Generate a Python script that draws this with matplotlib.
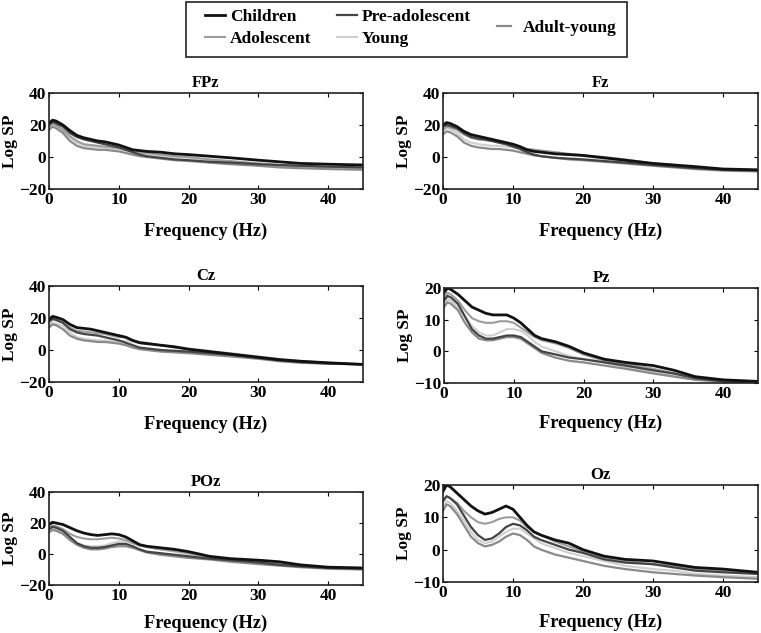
import matplotlib
matplotlib.use("Agg")
import matplotlib.pyplot as plt
from matplotlib.patches import Rectangle

plt.rcParams['font.family'] = ['Liberation Serif', 'DejaVu Serif']
plt.rcParams['font.weight'] = 'bold'

freq = [0, 0.5, 1, 2, 3, 4, 5, 6, 7, 8, 9, 10, 11, 12, 13, 14, 16, 18, 20, 23, 26, 30, 33, 36, 40, 45]
groups = ["Children", "Adolescent", "Pre-adolescent", "Young", "Adult-young"]
colors = {"Children": "#111111", "Pre-adolescent": "#444444", "Adult-young": "#8a8a8a",
          "Adolescent": "#9c9c9c", "Young": "#cfcfcf"}
widths = {"Children": 2.0, "Pre-adolescent": 1.6, "Adult-young": 1.6, "Adolescent": 1.5, "Young": 1.5}

fpz = {
    "Children":       [21,23,22.5,20,16.5,13.5,12,11,10,9.5,8.5,7.5,6,4.5,4,3.5,3,2,1.5,0.5,-0.5,-2,-3,-4,-4.5,-5],
    "Pre-adolescent": [20,22,21,19,15,12.5,11,10,9,8,7,6,4.5,3,1.5,0.5,-0.5,-1.5,-2,-3,-3.5,-4.5,-5,-5.5,-6,-6.5],
    "Adolescent":     [19,21,20,17,13,10,8,7.5,7,6.5,6,5.5,4.5,3.5,3,2.5,1.5,0.5,0,-1.5,-2.5,-4,-5,-5.5,-6.5,-7],
    "Young":          [18,20,19,16,12,9,7,6.5,6,6,5.5,5,4,3,2.5,2,1,0,-0.5,-2,-3,-4.5,-5.5,-6,-7,-7.5],
    "Adult-young":    [17,19,18,15,10,7,5.5,5,4.5,4.5,4,3.5,2.5,1.5,0.5,0,-1,-2,-2.5,-3.5,-4.5,-5.5,-6.5,-7,-7.5,-8],
}
fz = {
    "Children":       [20,21.5,21,19,16,14,13,12,11,10,9,8,6.5,4.5,3.5,3,2,1.5,1,-0.5,-2,-4,-5,-6,-7.5,-8],
    "Pre-adolescent": [19,20,19.5,18,15,12.5,11.5,11,10,9,8,6.5,5,3,1.5,0.5,-0.5,-1,-1.5,-2.5,-3.5,-5,-6,-7,-8,-8.5],
    "Adolescent":     [17,19,18.5,17,14,12,11,10.5,10,9,8,7,6,5,4.5,4,3,2,1,0,-1.5,-4,-5,-6.5,-8,-8.5],
    "Young":          [16,18,17.5,15,11,9,8,7.5,7,7,6.5,6,5.5,5,4.5,4,3,1.5,0.5,-1,-2.5,-4.5,-5.5,-7,-8,-8.5],
    "Adult-young":    [14,16,15.5,13,9,7,6,5.5,5,5,4.5,4,3,2,1,0.5,-0.5,-1.5,-2,-3,-4,-5.5,-6.5,-7.5,-8.5,-9],
}
cz = {
    "Children":       [19,21,20.5,19,16,14,13.5,13,12,11,10,9,8,6,4.5,4,3,2,0.5,-1,-2.5,-4.5,-6,-7,-8,-9],
    "Pre-adolescent": [18,19.5,19,17,13,11,10,9.5,9,8,7,6,4.5,3,1.5,1,0,-0.5,-1,-2,-3,-5,-6.5,-7.5,-8.5,-9],
    "Adolescent":     [17,19,18.5,17,14,12,11.5,11,10.5,10,9,8,8,6,5,4.5,3,1.5,0.5,-1,-2.5,-4.5,-6,-7,-8,-9],
    "Young":          [15,17,16.5,15,11,8,7,6.5,6,6,5.5,5,6,5,4.5,4,3,2,1,-0.5,-2,-4,-5.5,-7,-8,-9],
    "Adult-young":    [14,16,15.5,13,9,7,6,5.5,5,5,4.5,4,3,1.5,0.5,0,-1,-1.5,-2,-3,-4,-5.5,-7,-8,-8.5,-9],
}
pz = {
    "Children":       [18.5,20,19.5,18,16,14,13,12,11.5,11.5,11.5,10.5,9,7,5,4,3,1.5,-0.5,-2.5,-3.5,-4.5,-6,-8,-9,-9.5],
    "Adolescent":     [17,18.5,18,16,13,10.5,9.5,9,9,9.5,9.5,9,7.5,6,4.5,3.5,2.5,1,-1,-3,-4,-5.5,-7,-8.5,-9.5,-9.5],
    "Young":          [15,16.5,16,14,11,8,6,5,5,6,7,7,6.5,5,3,1.5,0,-1.5,-2.5,-3.5,-5,-6.5,-7.5,-9,-9.5,-9.5],
    "Pre-adolescent": [16,17.5,17,15,11,7,5,4,4,4.5,5,5,4.5,3,1.5,0,-1,-2,-2.5,-3.5,-4.5,-6,-7,-8.5,-9.5,-10],
    "Adult-young":    [14,15.5,15,13,9,6,4,3.5,3.5,4,4.5,4.5,4,2.5,1,-0.5,-2,-3,-3.5,-4.5,-5.5,-7,-8,-9,-9.5,-10],
}
poz = {
    "Children":       [19,20.5,20,19,17,15,13.5,12.5,12,12.5,13,12.5,11,8.5,6,5,4,3,1.5,-1.5,-3,-4,-5,-7,-8.5,-9],
    "Adolescent":     [17,18.5,18,16,13,11,10,9.5,9.5,10,10.5,10,9,7,5.5,4.5,3,2,0.5,-2,-3.5,-5,-6.5,-7.5,-9,-9.5],
    "Young":          [15,16.5,16,14,10,7,5.5,5,5,5.5,7,8,8,7,5.5,4.5,3,1.5,0,-2,-3.5,-5,-6.5,-7.5,-9,-9.5],
    "Pre-adolescent": [16,17.5,17,15,11,7,5,4,4,4.5,5.5,6.5,6.5,5,3,1.5,0.5,-0.5,-1.5,-3,-4,-5.5,-7,-8,-9,-9.5],
    "Adult-young":    [14,15.5,15,13,9,6,4,3,3,3.5,4.5,5,5,4,2.5,1,-0.5,-1.5,-2.5,-3.5,-5,-6.5,-7.5,-8.5,-9.5,-10],
}
oz = {
    "Children":       [18,20,19.5,17.5,15.5,13.5,12,11,11.5,12.5,13.5,12.5,10,7.5,5.5,4.5,3,2,0,-2,-3,-3.5,-4.5,-5.5,-6,-7],
    "Adolescent":     [15,16.5,16,14.5,12,10,8.5,8,8.5,9.5,10,10,9,7,5.5,4.5,2.5,1,-0.5,-2.5,-3.5,-4.5,-5,-6,-6.5,-7.5],
    "Pre-adolescent": [15,16.5,16,14,10.5,7,4.5,3,3.5,5,7,8,7.5,6,4,3,1.5,0,-1,-3,-4,-4.5,-5.5,-6.5,-7,-7.5],
    "Young":          [13,15,14.5,12,9,5.5,3,2,2.5,4,5.5,6.5,6.5,5,3.5,2,0.5,-1,-2,-3.5,-5,-6,-6.5,-7.5,-8,-8.5],
    "Adult-young":    [12,14,13.5,11,7.5,4,2,1,1.5,2.5,4,5,4.5,3,1,0,-1.5,-2.5,-3.5,-5,-6,-7,-7.5,-8,-8.5,-9],
}

panels = [
    ("FPz", fpz, (-20, 40), [-20, 0, 20, 40], [49, 93, 363, 189], 11),
    ("Fz",  fz,  (-20, 40), [-20, 0, 20, 40], [443, 93, 758, 189], 11),
    ("Cz",  cz,  (-20, 40), [-20, 0, 20, 40], [49, 286, 363, 382], 11),
    ("Pz",  pz,  (-10, 20), [-10, 0, 10, 20], [444, 288, 758, 383], 9),
    ("POz", poz, (-20, 40), [-20, 0, 20, 40], [49, 492, 363, 585], 7.5),
    ("Oz",  oz,  (-10, 20), [-10, 0, 10, 20], [443, 485, 758, 582], 9),
]

W, H = 761, 633
fig = plt.figure(figsize=(W / 100, H / 100), dpi=100)
draw_order = ["Young", "Adult-young", "Adolescent", "Pre-adolescent", "Children"]
handles = {}
for name, data, ylim, yticks, (x0, y0, x1, y1), lpad in panels:
    ax = fig.add_axes([x0 / W, 1 - y1 / H, (x1 - x0) / W, (y1 - y0) / H])
    for g in draw_order:
        ln, = ax.plot(freq, data[g], color=colors[g], lw=widths[g], label=g)
        handles[g] = ln
    ax.set_xlim(0, 45)
    ax.set_ylim(*ylim)
    ax.set_xticks([0, 10, 20, 30, 40])
    ax.set_yticks(yticks)
    ax.tick_params(direction='in', top=True, right=True, length=3, width=0.8,
                   labelsize=12.5, pad=2)
    for lab in ax.get_xticklabels() + ax.get_yticklabels():
        lab.set_fontweight('bold')
    for s in ax.spines.values():
        s.set_linewidth(1.2)
        s.set_color('#222222')
    ax.set_title(name, fontsize=12, fontweight='bold', pad=4)
    ax.set_xlabel("Frequency (Hz)", fontsize=13.2, fontweight='bold', labelpad=lpad)
    ax.set_ylabel("Log SP", fontsize=12.5, fontweight='bold', labelpad=1)

# legend box
fig.patches.append(Rectangle((186 / W, 1 - 57 / H), 441 / W, 55 / H,
                             transform=fig.transFigure, fill=False,
                             edgecolor='#222222', linewidth=1.2))
prop = {'family': 'Liberation Serif', 'weight': 'bold', 'size': 12.5}
left_groups = ["Children", "Adolescent", "Pre-adolescent", "Young"]
leg1 = fig.legend([handles[g] for g in left_groups], left_groups, ncol=2,
                  loc='center left', bbox_to_anchor=(205 / W, 1 - 28 / H),
                  frameon=False, prop=prop, handlelength=1.15, handletextpad=0.3,
                  columnspacing=1.45, labelspacing=0.3, borderpad=0, borderaxespad=0)
leg2 = fig.legend([handles["Adult-young"]], ["Adult-young"],
                  loc='center left', bbox_to_anchor=(497 / W, 1 - 28 / H),
                  frameon=False, prop=prop, handlelength=0.8, handletextpad=0.7,
                  borderpad=0, borderaxespad=0)

fig.savefig("out.png", dpi=100)
